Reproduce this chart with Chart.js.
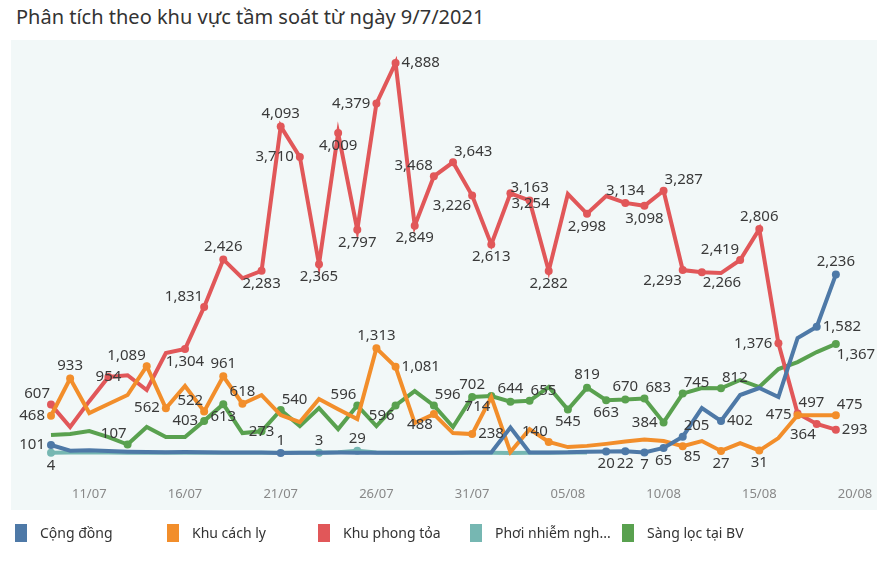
<!DOCTYPE html>
<html>
<head>
<meta charset="utf-8">
<script src="https://cdn.jsdelivr.net/npm/chart.js@4"></script>
<style>
  body { margin: 0; background: #fff; font-family: "Noto Sans", sans-serif; }
  #wrap { position: relative; width: 887px; height: 561px; }
  #panel { position: absolute; left: 11px; top: 40px; width: 866px; height: 470px; background: #f2f8f8; }
  #title { position: absolute; left: 16px; top: 3px; font-size: 20px; color: #333; }
  #chart { position: absolute; left: 0; top: 0; }
  .lg { position: absolute; top: 524px; font-size: 14px; color: #333; line-height: 18px; white-space: nowrap; }
  .lg span { display: inline-block; width: 12px; height: 18px; vertical-align: top; margin-right: 13px; }
</style>
</head>
<body>
<div id="wrap">
  <div id="panel"></div>
  <div id="title">Phân tích theo khu vực tầm soát từ ngày 9/7/2021</div>
  <canvas id="chart" width="887" height="561"></canvas>
  <div id="legend"></div>
</div>
<script>
// ngày (trục x), 09/07 -> 20/08
let dates = ['09/07','10/07','11/07','12/07','13/07','14/07','15/07','16/07','17/07','18/07',
  '19/07','20/07','21/07','22/07','23/07','24/07','25/07','26/07','27/07','28/07','29/07','30/07','31/07',
  '01/08','02/08','03/08','04/08','05/08','06/08','07/08','08/08','09/08','10/08','11/08','12/08',
  '13/08','14/08','15/08','16/08','17/08','18/08','19/08','20/08'];
let tickDates = ['11/07','16/07','21/07','26/07','31/07','05/08','10/08','15/08','20/08'];

let congDong = [101, 30, 35, 25, 18, 14, 10, 12, 10, 8, 8, 6, 1, 5, 4, 6, 5, 3, 4, 5, 3, 4,
  6, 8, 320, 6, 8, 10, 18, 20, 22, 7, 65, 205, 564, 402, 727, 815, 702, 1441, 1582, 2236];
let khuCachLy = [468, 933, 501, 614, 727, 1089, 562, 840, 522, 961, 618, 727, 476, 388, 677, 550,
  426, 1313, 1081, 376, 488, 250, 238, 702, 12, 300, 140, 75, 90, 115, 145, 170, 150, 85, 150,
  27, 125, 31, 188, 475, 475, 475];
let khuPhongToa = [607, 326, 650, 954, 975, 790, 1253, 1304, 1831, 2426, 2190, 2283, 4093, 3710,
  2365, 4009, 2797, 4379, 4888, 2849, 3468, 3643, 3226, 2613, 3254, 3163, 2282, 3245, 2998, 3220,
  3134, 3098, 3287, 2293, 2266, 2255, 2419, 2806, 1376, 497, 364, 293];
let phoiNhiem = [4, 6, 8, 6, 5, 5, 4, 4, 5, 4, 4, 3, 3, 3, 3, 10, 29, 8, 5, 4, 4, 4, 4, 4, 2, 4,
  5, 6, 8];
let sangLoc = [225, 238, 276, 200, 107, 326, 200, 200, 403, 613, 250, 273, 540, 338, 564, 300, 596,
  338, 596, 777, 596, 326, 702, 714, 644, 655, 827, 545, 819, 663, 670, 683, 384, 745, 815, 812,
  915, 827, 1052, 1140, 1265, 1367];

// nhãn: chỉ số điểm -> vị trí (t/b/l/r/tl/tr/bl/br/c)
let lblCongDong = {0:'l', 12:'t', 29:'b', 30:'b', 31:'b', 32:'b', 33:'tr', 35:'r', 40:'r', 41:'t'};
let lblCachLy = {0:'l', 1:'t', 5:'tl', 6:'l', 8:'tl', 9:'t', 10:'t', 17:'t', 18:'r', 20:'bl',
  22:'r', 26:'tl', 33:'br', 35:'b', 37:'b', 39:'l', 41:'tr'};
let lblPhongToa = {0:'tl', 3:'c', 7:'b', 8:'tl', 9:'t', 11:'b', 12:'t', 13:'l', 14:'b', 15:'b',
  16:'b', 17:'l', 18:'r', 19:'b', 20:'tl', 21:'tr', 22:'bl', 23:'b', 24:'br', 25:'t', 26:'b',
  28:'b', 30:'t', 31:'b', 32:'tr', 33:'bl', 34:'br', 36:'tl', 37:'t', 38:'l', 39:'tr', 40:'bl', 41:'r'};
let lblPhoiNhiem = {0:'b', 14:'t', 16:'t'};
let lblSangLoc = {4:'tl', 8:'l', 9:'b', 11:'c', 12:'tr', 16:'tl', 18:'bl', 20:'tr', 22:'t', 23:'bl',
  24:'t', 25:'tr', 27:'b', 28:'t', 29:'b', 30:'t', 31:'tr', 32:'l', 33:'tr', 35:'tr', 41:'br'};

function makeSet(label, data, color, lbl) {
    return {
        label: label,
        data: data,
        lbl: lbl,
        borderColor: color,
        backgroundColor: color,
        borderWidth: 4,
        pointRadius: (c) => lbl[c.dataIndex] ? 4 : 0,
        pointBorderWidth: 0,
        tension: 0
    };
}

let sets = [
    makeSet('Cộng đồng', congDong, '#4e79a7', lblCongDong),
    makeSet('Khu cách ly', khuCachLy, '#f28e2b', lblCachLy),
    makeSet('Khu phong tỏa', khuPhongToa, '#e15759', lblPhongToa),
    makeSet('Phơi nhiễm ngh...', phoiNhiem, '#76b7b2', lblPhoiNhiem),
    makeSet('Sàng lọc tại BV', sangLoc, '#59a14f', lblSangLoc)
];

let pointLabels = {
    id: 'pointLabels',
    afterDatasetsDraw(chart) {
        let c = chart.ctx;
        c.save();
        c.font = '15px "Noto Sans"';
        c.fillStyle = '#3a3a3a';
        chart.data.datasets.forEach((ds, di) => {
            let meta = chart.getDatasetMeta(di);
            Object.keys(ds.lbl).forEach(k => {
                let i = +k, p = meta.data[i], pos = ds.lbl[k];
                let txt = ds.data[i].toLocaleString('en-US');
                let x = p.x, y = p.y;
                c.textAlign = 'center'; c.textBaseline = 'middle';
                if (pos === 't') { c.textBaseline = 'bottom'; y -= 5; }
                if (pos === 'b') { c.textBaseline = 'top'; y += 5; }
                if (pos === 'l') { c.textAlign = 'right'; x -= 6; }
                if (pos === 'r') { c.textAlign = 'left'; x += 6; }
                if (pos === 'tl') { c.textAlign = 'right'; c.textBaseline = 'bottom'; x -= 1; y -= 3; }
                if (pos === 'tr') { c.textAlign = 'left'; c.textBaseline = 'bottom'; x += 1; y -= 3; }
                if (pos === 'bl') { c.textAlign = 'right'; c.textBaseline = 'top'; x -= 1; y += 3; }
                if (pos === 'br') { c.textAlign = 'left'; c.textBaseline = 'top'; x += 1; y += 3; }
                c.fillText(txt, x, y);
            });
        });
        c.restore();
    }
};

new Chart(document.getElementById('chart').getContext('2d'), {
    type: 'line',
    data: { labels: dates, datasets: sets },
    options: {
        responsive: false,
        animation: false,
        layout: { padding: { left: 51, right: 32, top: 46, bottom: 0 } },
        scales: {
            x: {
                grid: { display: false, drawTicks: false },
                border: { display: false },
                afterFit(s) { s.height = 80; },
                ticks: {
                    autoSkip: false,
                    maxRotation: 0,
                    padding: 5,
                    color: '#888',
                    font: { family: 'Noto Sans', size: 13 },
                    callback: (v, i) => tickDates.includes(dates[i]) ? dates[i] : ''
                }
            },
            y: {
                min: -350,
                max: 5100,
                afterFit(s) { s.width = 0; },
                ticks: { display: false, stepSize: 1000 },
                border: { display: false },
                grid: {
                    drawTicks: false,
                    color: (c) => c.tick.value % 1000 === 0 ? '#e4eeee' : 'transparent'
                }
            }
        },
        plugins: {
            legend: { display: false },
            tooltip: { enabled: false }
        }
    },
    plugins: [pointLabels]
});

// chú thích
let lgX = [15, 167, 318, 470, 622];
document.getElementById('legend').innerHTML = sets.map((s, i) =>
    '<div class="lg" style="left:' + lgX[i] + 'px"><span style="background:' + s.borderColor + '"></span>' + s.label + '</div>'
).join('');
</script>
</body>
</html>
